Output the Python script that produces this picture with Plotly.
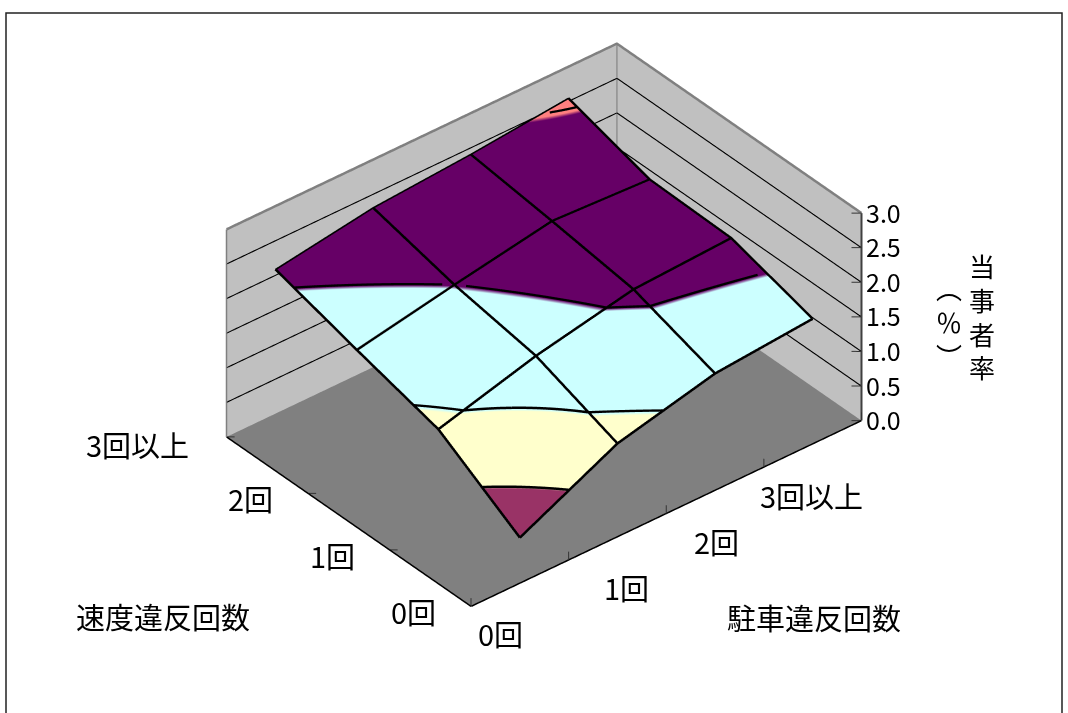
import plotly.graph_objects as go

parking = [0.5, 1.5, 2.5, 3.5]
speed = [0, 1, 2, 3]
parking_labels = ["0回", "1回", "2回", "3回以上"]
speed_labels = ["0回", "1回", "2回", "3回以上"]
z_ticks = [0, 0.5, 1, 1.5, 2, 2.5, 3]
# rows: speed 0..3, columns: parking 0..3
rate = [
    [0.65, 1.34, 1.68, 1.80],
    [1.40, 1.79, 2.08, 2.15],
    [1.73, 2.00, 2.25, 2.18],
    [2.08, 2.30, 2.40, 2.54],
]
bands = ["#993366", "#993366", "#FFFFCC", "#CCFFFF", "#660066", "#FF8080"]
levels = [1.0, 1.5, 2.0, 2.5]
FONT = "Noto Sans CJK JP"
W, H = 1068, 713
LIFT = 0.008
STOP_SHIFT = 0.001


def band_lines(level, sub=14):
    """Trace a colour-band edge across the bilinear surface."""
    xs, ys, zs = [], [], []
    for j in range(len(speed) - 1):
        for i in range(len(parking) - 1):
            a, b, c, d = rate[j][i], rate[j][i + 1], rate[j + 1][i], rate[j + 1][i + 1]
            f = lambda u, v: a * (1 - u) * (1 - v) + b * u * (1 - v) + c * (1 - u) * v + d * u * v
            for p in range(sub):
                for q in range(sub):
                    u0, u1, v0, v1 = p / sub, (p + 1) / sub, q / sub, (q + 1) / sub
                    corners = [(u0, v0), (u1, v0), (u1, v1), (u0, v1)]
                    pts = []
                    for k in range(4):
                        (ua, va), (ub, vb) = corners[k], corners[(k + 1) % 4]
                        fa, fb = f(ua, va) - level, f(ub, vb) - level
                        if fa * fb < 0:
                            t = fa / (fa - fb)
                            pts.append((ua + t * (ub - ua), va + t * (vb - va)))
                    if len(pts) == 2:
                        for u, v in pts:
                            xs.append(parking[i] + u * (parking[i + 1] - parking[i]))
                            ys.append(speed[j] + v * (speed[j + 1] - speed[j]))
                            zs.append(level + LIFT)
                        xs.append(None); ys.append(None); zs.append(None)
    return xs, ys, zs


cs = []
n = len(bands)
for i, c in enumerate(bands):
    lo = 0 if i == 0 else i / n - STOP_SHIFT
    hi = 1 if i == n - 1 else (i + 1) / n - STOP_SHIFT
    cs += [[lo, c], [hi, c]]

fig = go.Figure()
fig.add_trace(go.Surface(
    x=parking, y=speed, z=rate, cmin=0, cmax=3, colorscale=cs, showscale=False,
    lighting=dict(ambient=1, diffuse=0, specular=0, roughness=1, fresnel=0),
    hoverinfo="skip",
))


def add_line(x, y, z, color="black", width=5):
    fig.add_trace(go.Scatter3d(x=x, y=y, z=z, mode="lines", line=dict(color=color, width=width),
                               hoverinfo="skip", showlegend=False))


xr, yr, zr = [0, 4], [0, 3], [0, 3]
# wall grid lines
for t in z_ticks[1:-1]:
    add_line([xr[0], xr[1], xr[1]], [yr[1], yr[1], yr[0]], [t] * 3, "black", 2.5)
# surface mesh
for j, yv in enumerate(speed):
    add_line(parking, [yv] * len(parking), [v + LIFT for v in rate[j]])
for i, xv in enumerate(parking):
    add_line([xv] * len(speed), speed, [rate[j][i] + LIFT for j in range(len(speed))])
for lv in levels:
    add_line(*band_lines(lv))

# wall outline
add_line([xr[0], xr[1], xr[1]], [yr[1], yr[1], yr[0]], [zr[1]] * 3, "#808080", 5)
add_line([xr[1], xr[1]], [yr[1], yr[1]], zr, "#808080", 5)
add_line([xr[0], xr[0]], [yr[1], yr[1]], zr, "#808080", 3)
# axis lines
add_line(xr, [yr[0], yr[0]], [0, 0], "black", 3)
add_line([xr[0], xr[0]], yr, [0, 0], "black", 3)
add_line([xr[1], xr[1]], [yr[0], yr[0]], zr, "#404040", 4)
# tick marks
for t in range(xr[1] + 1):
    add_line([t, t], [0, 0], [0, 0.12], "#333333", 2)
for t in range(yr[1] + 1):
    add_line([0, 0.05], [t, max(t - 0.04, 0)], [0, 0], "#333333", 2)
for t in z_ticks:
    add_line([4, 3.94], [0, 0.05], [t, t], "#333333", 2)

TF = dict(family=FONT, size=29, color="black")
x_off = [(-19, -50), (9, -50), (1, -51), (-1, -51)]
y_off = [(-58, -5), (-57, -5), (-58, -5), (-89, -7)]
scene_ann = []
for v, t, o in zip(parking, parking_labels, x_off):
    scene_ann.append(dict(x=v, y=0, z=0, text=t, showarrow=False, font=TF, xshift=o[0], yshift=o[1]))
for v, t, o in zip(speed, speed_labels, y_off):
    scene_ann.append(dict(x=0, y=v, z=0, text=t, showarrow=False, font=TF, xshift=o[0], yshift=o[1]))
for v in z_ticks:
    scene_ann.append(dict(x=4, y=0, z=v, text=f"{v:.1f}", showarrow=False, xanchor="left", xshift=3, yshift=1.5,
                          font=dict(family=FONT, size=25, color="black")))

common = dict(showbackground=True, showspikes=False, title=dict(text=""), showticklabels=False,
              ticks="", zeroline=False, showline=False, showgrid=False)
S = 1.69
R = 1.16
paper = dict(xref="paper", yref="paper", showarrow=False, xanchor="center", yanchor="middle")
fig.update_layout(
    width=W, height=H, margin=dict(l=0, r=0, t=0, b=0), paper_bgcolor="white",
    font=dict(family=FONT, color="black"), showlegend=False,
    scene=dict(
        domain=dict(x=[44 / W, 1044 / W], y=[(H - 625) / H, (H - 25) / H]),
        aspectmode="manual", aspectratio=dict(x=1 * S, y=0.756 * S, z=0.5 * S),
        camera=dict(projection=dict(type="orthographic"),
                    up=dict(x=0, y=0, z=1), center=dict(x=0, y=0, z=0),
                    eye=dict(x=-0.638 * 0.8192 * R, y=-0.770 * 0.8192 * R, z=0.5745 * R)),
        xaxis=dict(range=xr, tickvals=parking, backgroundcolor="#C0C0C0", **common),
        yaxis=dict(range=yr, tickvals=speed, backgroundcolor="#C0C0C0", **common),
        zaxis=dict(range=zr, tickvals=z_ticks, backgroundcolor="#808080", **common),
        annotations=scene_ann,
    ),
    shapes=[dict(type="rect", xref="paper", yref="paper", x0=6 / W, x1=1062 / W, y0=-0.05, y1=(H - 13) / H,
                 line=dict(color="#222222", width=1.5))],
    annotations=[
        dict(text="速度違反回数", x=163 / W, y=(H - 616) / H, font=TF, **paper),
        dict(text="駐車違反回数", x=814 / W, y=(H - 617) / H, font=TF, **paper),
        dict(text="当<br>事<br>者<br>率", x=982 / W, y=(H - 316) / H,
             font=dict(family=FONT, size=26, color="black"), **paper),
        dict(text="︵<br>％<br>︶", x=949 / W, y=(H - 321) / H,
             font=dict(family=FONT, size=26, color="black"), **paper),
    ],
)
fig.write_html("out.html", config=dict(displayModeBar=False),
               post_script="document.body.style.margin='0';")
